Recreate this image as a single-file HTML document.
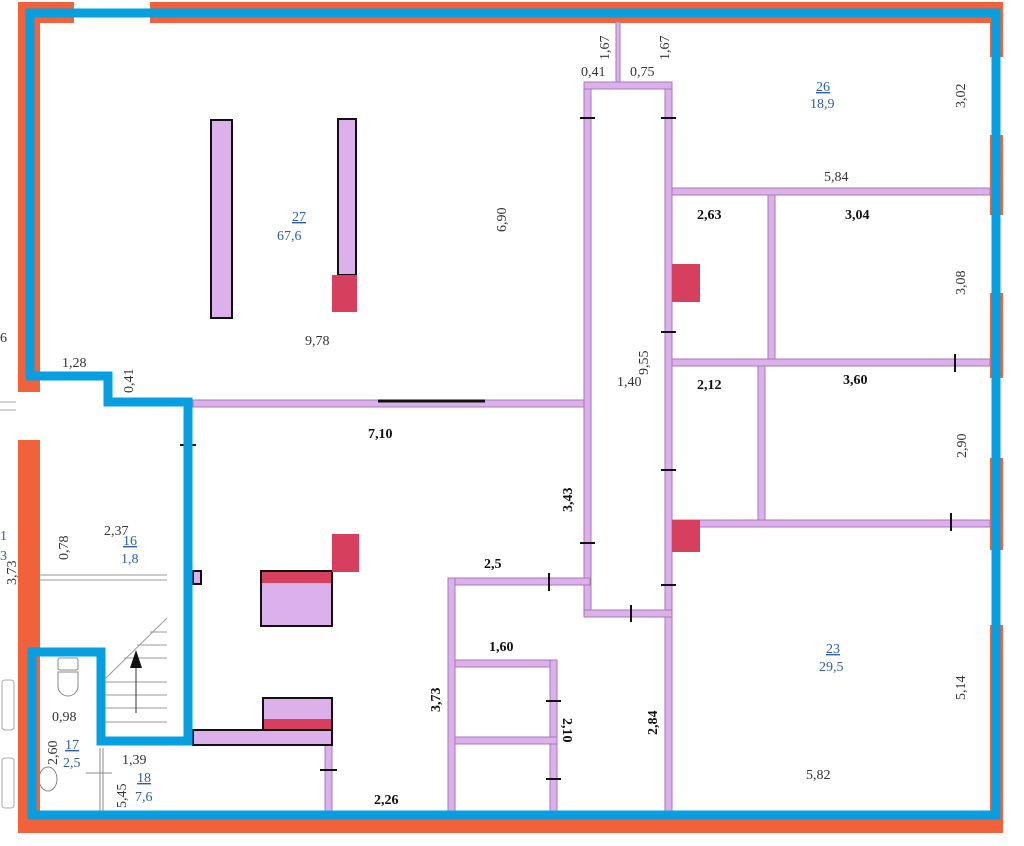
<!DOCTYPE html>
<html><head><meta charset="utf-8"><style>
html,body{margin:0;padding:0;background:#fff;}
svg{display:block;}
text{font-family:"Liberation Serif",serif;font-size:14px;fill:#333;}
.b{font-weight:bold;fill:#111;}
.n{fill:#2f5fa8;}
</style></head><body>
<svg width="1024" height="846" viewBox="0 0 1024 846" xmlns="http://www.w3.org/2000/svg">
<rect width="1024" height="846" fill="#fff"/>
<!-- orange outer walls -->
<g fill="#f2623a">
<rect x="18" y="2" width="985" height="21"/>
<rect x="18" y="2" width="22" height="390"/>
<rect x="18" y="440" width="22" height="393"/>
<rect x="18" y="812" width="985" height="21"/>
<rect x="40" y="492" width="143" height="23"/>
<rect x="167" y="492" width="16" height="245"/>
<rect x="985" y="2" width="18" height="55"/>
<rect x="985" y="135" width="18" height="80"/>
<rect x="985" y="293" width="18" height="85"/>
<rect x="985" y="458" width="18" height="92"/>
<rect x="985" y="625" width="18" height="208"/>
</g>
<!-- window gaps -->
<rect x="74" y="2" width="76" height="21" fill="#fff"/>
<line x1="74" y1="12" x2="150" y2="12" stroke="#bbb"/>
<rect x="60" y="492" width="48" height="23" fill="#fff"/>
<line x1="84" y1="492" x2="84" y2="515" stroke="#999"/>
<!-- white interior -->
<rect x="40" y="23" width="950" height="789" fill="#fff"/>
<rect x="40" y="515" width="127" height="297" fill="#fff"/>
<!-- stairs -->
<g stroke="#999" stroke-width="1">
<line x1="40" y1="575" x2="167" y2="575"/>
<line x1="40" y1="580" x2="167" y2="580"/>
<line x1="106" y1="678" x2="167" y2="618"/>
<line x1="150" y1="632" x2="167" y2="632"/><line x1="137" y1="645" x2="167" y2="645"/>
<line x1="124" y1="658" x2="167" y2="658"/><line x1="105" y1="682" x2="167" y2="682"/>
<line x1="105" y1="695" x2="167" y2="695"/><line x1="105" y1="708" x2="167" y2="708"/>
<line x1="105" y1="722" x2="167" y2="722"/>
</g>
<line x1="136" y1="665" x2="136" y2="713" stroke="#333"/>
<polygon points="136,650 130,668 142,668" fill="#111"/>
<!-- toilet / sink -->
<g fill="none" stroke="#888">
<rect x="58" y="658" width="20" height="12" rx="2"/>
<path d="M58 672 h20 v14 a10 10 0 0 1 -20 0 z"/>
<ellipse cx="48" cy="779" rx="9" ry="12"/>
<line x1="100" y1="748" x2="100" y2="812"/><line x1="86" y1="773" x2="112" y2="773"/>
<line x1="103" y1="748" x2="103" y2="812"/>
</g>
<!-- bath fixtures left margin -->
<g fill="none" stroke="#aaa">
<rect x="2" y="680" width="12" height="50" rx="3"/>
<rect x="2" y="758" width="12" height="50" rx="3"/>
<line x1="0" y1="402" x2="16" y2="402"/><line x1="0" y1="410" x2="16" y2="410"/>
</g>
<!-- purple walls -->
<g fill="#dcb0ea" stroke="#a57ab8" stroke-width="1">
<rect x="193" y="400" width="392" height="7"/>
<rect x="584" y="82" width="7" height="535"/>
<rect x="665" y="82" width="7" height="730"/>
<rect x="584" y="82" width="88" height="7"/>
<rect x="616" y="22" width="4" height="60"/>
<rect x="672" y="188" width="318" height="7"/>
<rect x="768" y="195" width="7" height="165"/>
<rect x="672" y="359" width="318" height="7"/>
<rect x="758" y="366" width="7" height="154"/>
<rect x="672" y="520" width="318" height="7"/>
<rect x="584" y="610" width="88" height="7"/>
<rect x="448" y="578" width="142" height="7"/>
<rect x="448" y="578" width="7" height="234"/>
<rect x="455" y="660" width="102" height="7"/>
<rect x="550" y="660" width="7" height="152"/>
<rect x="455" y="737" width="102" height="7"/>
<rect x="325" y="745" width="7" height="67"/>
<rect x="193" y="730" width="139" height="15" stroke="#111" stroke-width="2"/>
<rect x="211" y="120" width="21" height="198" stroke="#111" stroke-width="2"/>
<rect x="338" y="119" width="18" height="156" stroke="#111" stroke-width="2"/>
<rect x="261" y="571" width="71" height="55" stroke="#111" stroke-width="2"/>
<rect x="263" y="698" width="69" height="32" stroke="#111" stroke-width="2"/>
<rect x="193" y="571" width="8" height="13" stroke="#111" stroke-width="2"/>
</g>
<!-- red columns -->
<g fill="#d6405e">
<rect x="332" y="275" width="25" height="37"/>
<rect x="332" y="534" width="27" height="38"/>
<rect x="262" y="572" width="69" height="11"/>
<rect x="264" y="719" width="67" height="10"/>
<rect x="672" y="264" width="28" height="38"/>
<rect x="672" y="520" width="28" height="32"/>
</g>
<!-- black ticks -->
<g stroke="#111" stroke-width="2">
<line x1="378" y1="401" x2="485" y2="401" stroke-width="3"/>
<line x1="580" y1="118" x2="595" y2="118"/><line x1="661" y1="118" x2="676" y2="118"/>
<line x1="661" y1="332" x2="676" y2="332"/><line x1="661" y1="470" x2="676" y2="470"/>
<line x1="661" y1="585" x2="676" y2="585"/><line x1="580" y1="543" x2="595" y2="543"/>
<line x1="549" y1="573" x2="549" y2="591"/><line x1="631" y1="605" x2="631" y2="622"/>
<line x1="955" y1="354" x2="955" y2="372"/><line x1="951" y1="513" x2="951" y2="531"/>
<line x1="546" y1="701" x2="561" y2="701"/><line x1="546" y1="779" x2="561" y2="779"/>
<line x1="320" y1="770" x2="337" y2="770"/><line x1="180" y1="445" x2="196" y2="445"/>
</g>
<!-- blue outline -->
<g fill="none" stroke="#079fe0" stroke-width="9" stroke-linejoin="miter">
<polyline points="30,376 30,13 996,13 996,815 32,815 32,652 101,652 101,741 188,741 188,402 108,402 108,376 26,376"/>
</g>
<!-- labels -->
<text x="292" y="221" class="n" text-decoration="underline">27</text>
<text x="277" y="240" class="n">67,6</text>
<text x="305" y="345">9,78</text>
<text transform="translate(506,232) rotate(-90)">6,90</text>
<text x="62" y="367">1,28</text>
<text transform="translate(133,393) rotate(-90)">0,41</text>
<text x="0" y="342">6</text>
<text x="368" y="438" class="b">7,10</text>
<text transform="translate(572,512) rotate(-90)" class="b">3,43</text>
<text x="484" y="568" class="b">2,5</text>
<text x="489" y="651" class="b">1,60</text>
<text transform="translate(440,712) rotate(-90)" class="b">3,73</text>
<text transform="translate(563,718) rotate(90)" class="b">2,10</text>
<text transform="translate(657,735) rotate(-90)" class="b">2,84</text>
<text x="374" y="804" class="b">2,26</text>
<text x="581" y="76">0,41</text>
<text x="630" y="76">0,75</text>
<text transform="translate(609,60) rotate(-90)">1,67</text>
<text transform="translate(669,60) rotate(-90)">1,67</text>
<text x="816" y="91" class="n" text-decoration="underline">26</text>
<text x="810" y="108" class="n">18,9</text>
<text transform="translate(965,108) rotate(-90)">3,02</text>
<text x="824" y="181">5,84</text>
<text x="697" y="219" class="b">2,63</text>
<text x="845" y="219" class="b">3,04</text>
<text transform="translate(965,295) rotate(-90)">3,08</text>
<text x="617" y="386">1,40</text>
<text transform="translate(648,375) rotate(-90)">9,55</text>
<text x="697" y="389" class="b">2,12</text>
<text x="843" y="384" class="b">3,60</text>
<text transform="translate(966,458) rotate(-90)">2,90</text>
<text x="826" y="653" class="n" text-decoration="underline">23</text>
<text x="819" y="671" class="n">29,5</text>
<text transform="translate(965,700) rotate(-90)">5,14</text>
<text x="806" y="779">5,82</text>
<text x="104" y="535">2,37</text>
<text x="123" y="545" class="n" text-decoration="underline">16</text>
<text x="121" y="563" class="n">1,8</text>
<text transform="translate(68,560) rotate(-90)">0,78</text>
<text x="0" y="540" class="n">1</text>
<text x="0" y="560" class="n">3</text>
<text transform="translate(16,585) rotate(-90)">3,73</text>
<text x="52" y="721">0,98</text>
<text transform="translate(57,765) rotate(-90)">2,60</text>
<text x="65" y="749" class="n" text-decoration="underline">17</text>
<text x="63" y="767" class="n">2,5</text>
<text x="122" y="764">1,39</text>
<text x="137" y="782" class="n" text-decoration="underline">18</text>
<text x="135" y="801" class="n">7,6</text>
<text transform="translate(126,808) rotate(-90)">5,45</text>
</svg>
</body></html>
